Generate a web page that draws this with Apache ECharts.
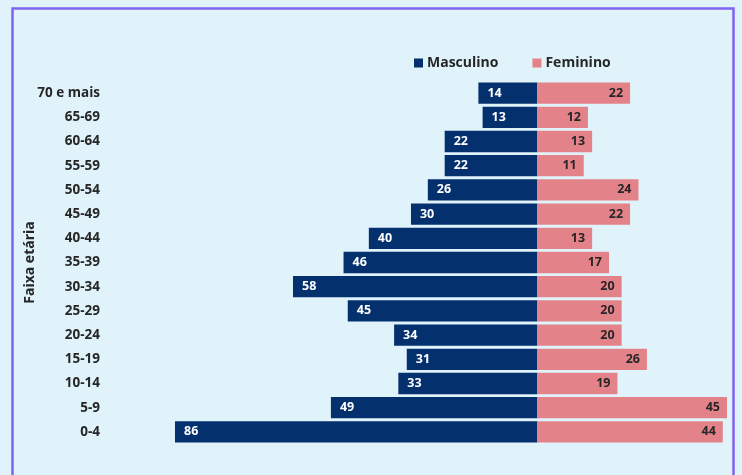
<!DOCTYPE html>
<html>
<head>
<meta charset="utf-8">
<script src="https://cdn.jsdelivr.net/npm/echarts@6/dist/echarts.min.js"></script>
<style>
html,body{margin:0;padding:0;background:#e0f3fb;}
#c{width:742px;height:475px;}
</style>
</head>
<body>
<div id="c"></div>
<script>
const categories = ['0-4','5-9','10-14','15-19','20-24','25-29','30-34','35-39','40-44','45-49','50-54','55-59','60-64','65-69','70 e mais'];
const masculino = [86,49,33,31,34,45,58,46,40,30,26,22,22,13,14];
const feminino = [44,45,19,26,20,20,20,17,13,22,24,11,13,12,22];

const FONT = 'Open Sans';
const chart = echarts.init(document.getElementById('c'));
chart.setOption({
  backgroundColor: '#e0f3fb',
  animation: false,
  textStyle: {fontFamily: FONT},
  graphic: [{
    type: 'rect',
    shape: {x: 12.5, y: 8.5, width: 721, height: 480},
    style: {fill: 'none', stroke: '#7f63f2', lineWidth: 2.5},
    silent: true, z: -1
  }],
  legend: {
    left: 409, top: 51,
    itemWidth: 9, itemHeight: 9, itemGap: 34,
    icon: 'rect',
    textStyle: {fontFamily: FONT, fontWeight: 'bold', fontSize: 14, color: '#262626', padding: [0,0,0,-1]},
    data: ['Masculino','Feminino']
  },
  grid: {left: 175, right: 15, top: 81, bottom: 31, containLabel: false},
  xAxis: {
    type: 'value', min: -86, max: 45,
    show: false
  },
  yAxis: {
    type: 'category', data: categories,
    name: 'Faixa etária', nameLocation: 'middle', nameRotate: 90, nameGap: 138,
    nameMoveOverlap: false,
    nameTextStyle: {fontFamily: FONT, fontWeight: 'bold', fontSize: 14, color: '#262626'},
    axisLine: {show: false}, axisTick: {show: false},
    axisLabel: {margin: 75, fontFamily: FONT, fontWeight: 'bold', fontSize: 13.5, color: '#262626'}
  },
  series: [
    {
      name: 'Masculino', type: 'bar', stack: 't', barCategoryGap: '12%',
      data: masculino.map(v => -v),
      itemStyle: {color: '#04306e'},
      label: {show: true, position: 'insideLeft', distance: 9, formatter: p => Math.abs(p.value),
        color: '#ffffff', fontFamily: FONT, fontWeight: 'bold', fontSize: 12.5}
    },
    {
      name: 'Feminino', type: 'bar', stack: 't', barCategoryGap: '12%',
      data: feminino,
      itemStyle: {color: '#e4828a'},
      label: {show: true, position: 'insideRight', distance: 7,
        color: '#262626', fontFamily: FONT, fontWeight: 'bold', fontSize: 12.5}
    }
  ]
});
</script>
</body>
</html>
